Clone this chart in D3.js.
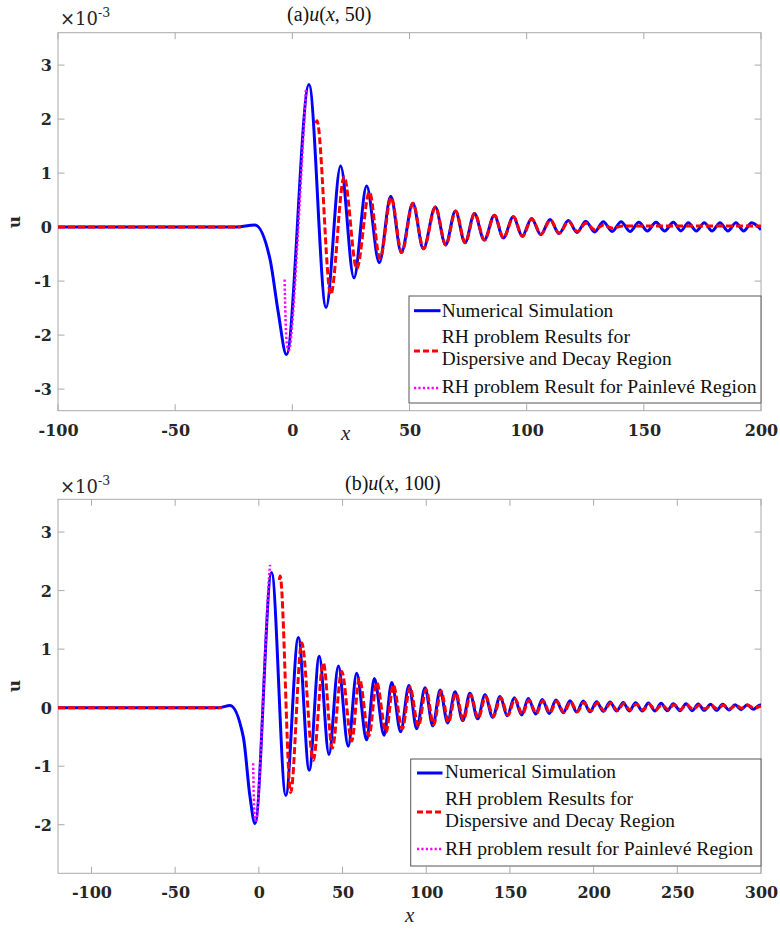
<!DOCTYPE html>
<html><head><meta charset="utf-8">
<script src="https://cdn.jsdelivr.net/npm/d3@7"></script>
<style>body{margin:0;background:#fff}svg{display:block}
.lx{font-family:"Liberation Serif",serif}
.tk{font-family:"DejaVu Serif",serif}
</style>
</head><body>
<script>
// ---------- DATA (u in units of 1e-3) ----------
const xTicksA = [-100,-50,0,50,100,150,200];
const yTicksA = [-3,-2,-1,0,1,2,3];
const xTicksB = [-100,-50,0,50,100,150,200,250,300];
const yTicksB = [-2,-1,0,1,2,3];

const simA = [[-100,0],[-24,0],[-16,0.04],[-9.5,-0.6],[-6,-1.58],[-2.5,-2.36],[7.1,2.64],[14.4,-1.49],[20.6,1.13],[26.3,-0.94],[31.7,0.76],[37.1,-0.66],[42.0,0.57],[46.5,-0.47],[51.4,0.44],[55.9,-0.40],[61.0,0.37],[65.4,-0.33],[69.6,0.30],[73.7,-0.29],[77.7,0.25],[81.9,-0.24],[86.2,0.22],[90.0,-0.20],[94.3,0.19],[98.1,-0.17],[102.1,0.16],[106.0,-0.14],[110.0,0.14],[113.8,-0.12],[117.8,0.12],[121.5,-0.10],[125.2,0.11],[129.0,-0.09],[132.7,0.10],[136.5,-0.08],[140.3,0.10],[144.1,-0.08],[147.9,0.09],[151.5,-0.07],[155.2,0.09],[158.9,-0.07],[162.6,0.09],[165.8,-0.07],[169.0,0.08],[172.4,-0.07],[175.8,0.08],[179.1,-0.07],[182.5,0.08],[185.9,-0.07],[189.3,0.08],[192.6,-0.07],[196.0,0.08],[200,-0.05]];
const rhDispLeftA = [[-100,0],[-22,0]];
const rhDispA = [[10.0,1.92],[10.5,1.97],[16.4,-1.25],[22.1,0.93],[27.5,-0.77],[32.9,0.65],[37.4,-0.58],[42.2,0.55],[46.7,-0.47],[51.5,0.44],[56.0,-0.40],[61.1,0.37],[65.5,-0.33],[69.7,0.30],[73.8,-0.29],[77.8,0.25],[82.0,-0.24],[86.3,0.22],[90.1,-0.20],[94.4,0.19],[98.2,-0.17],[102.2,0.15],[106.1,-0.13],[110.1,0.13],[113.9,-0.11],[117.9,0.10],[121.6,-0.08],[125.3,0.07],[129.1,-0.05],[132.8,0.04],[136.6,-0.02],[141,0.02],[200,0.02]];
const rhPainA = [[-3.3,-0.97],[-2.9,-1.7],[-2.2,-2.2],[-1.4,-2.28],[0.3,-1.6],[2.3,-0.2],[4.2,1.3],[5.8,2.55]];

const simB = [[-120,0],[-24,0],[-17.2,0.035],[-9.3,-0.5],[-5.3,-1.52],[-2.3,-1.98],[7.6,2.31],[16.1,-1.5],[23.6,1.20],[30.1,-1.07],[36.1,0.88],[41.9,-0.80],[47.5,0.71],[53.4,-0.66],[58.4,0.59],[64.4,-0.55],[69.0,0.50],[74.8,-0.47],[79.4,0.43],[84.7,-0.41],[89.7,0.38],[94.3,-0.36],[99.3,0.34],[103.9,-0.31],[108.3,0.30],[112.8,-0.26],[117.2,0.27],[121.8,-0.22],[126.1,0.245],[130.7,-0.19],[135.1,0.22],[139.7,-0.165],[144.1,0.19],[148.4,-0.14],[152.6,0.17],[157.0,-0.125],[161.0,0.155],[165.4,-0.11],[169.3,0.14],[173.5,-0.10],[177.5,0.13],[181.9,-0.085],[185.9,0.12],[189.9,-0.075],[193.8,0.115],[197.8,-0.07],[201.8,0.10],[205.8,-0.063],[209.8,0.097],[213.8,-0.057],[217.7,0.09],[221.3,-0.057],[225.1,0.086],[229.1,-0.057],[232.7,0.08],[236.7,-0.057],[240.3,0.074],[244.0,-0.051],[247.6,0.068],[251.6,-0.051],[255.2,0.068],[259.0,-0.051],[262.5,0.063],[266.1,-0.046],[269.9,0.057],[273.5,-0.046],[277.1,0.057],[280.9,-0.04],[284.5,0.051],[288.1,-0.034],[291.8,0.051],[295.4,-0.028],[299.4,0.046],[300,0.045]];
const rhDispLeftB = [[-120,0],[-22,0]];
const rhDispB = [[12.2,2.18],[12.7,2.25],[19.0,-1.45],[25.6,1.11],[32.5,-0.90],[38.5,0.77],[43.9,-0.69],[49.5,0.62],[55.5,-0.57],[60.0,0.50],[65.8,-0.48],[70.4,0.43],[76.0,-0.42],[80.3,0.39],[85.7,-0.36],[90.3,0.35],[95.3,-0.32],[99.9,0.31],[104.4,-0.29],[108.9,0.28],[113.3,-0.25],[117.7,0.25],[122.2,-0.21],[126.5,0.22],[131.1,-0.18],[135.5,0.19],[140.1,-0.15],[144.5,0.17],[148.8,-0.13],[153.0,0.15],[157.4,-0.11],[161.4,0.13],[165.8,-0.10],[169.7,0.12],[173.9,-0.09],[177.9,0.11],[182.3,-0.08],[186.3,0.10],[190.3,-0.07],[194.2,0.09],[198.2,-0.06],[202.2,0.08],[206.2,-0.05],[210.2,0.08],[214.2,-0.05],[218.1,0.07],[221.7,-0.04],[225.5,0.06],[229.5,-0.04],[233.1,0.06],[237.1,-0.04],[240.7,0.05],[244.4,-0.03],[248.0,0.05],[252.0,-0.03],[255.6,0.05],[259.4,-0.03],[262.9,0.04],[266.5,-0.02],[270.3,0.04],[273.9,-0.02],[277.5,0.04],[281.3,-0.02],[284.9,0.04],[288.5,-0.01],[292.2,0.04],[295.8,-0.01],[300,0.03]];
const rhPainB = [[-3.4,-0.95],[-3.0,-1.55],[-2.3,-1.88],[-1.5,-1.93],[0.0,-1.4],[2.0,-0.2],[4.0,1.1],[5.8,2.1],[6.7,2.44]];

const legendA = ["Numerical Simulation","RH problem Results for","Dispersive and Decay Region","RH problem Result for Painlevé Region"];
const legendB = ["Numerical Simulation","RH problem Results for","Dispersive and Decay Region","RH problem result for Painlevé Region"];

// ---------- DRAWING ----------
const W = 780, H = 929;
const svg = d3.select("body").append("svg").attr("width", W).attr("height", H);
const AX = "#aaaaaa", TXT = "#262626";
const BLUE = "#0000ff", RED = "#ff0000", MAG = "#ff00ff";

function panel(o) {
  const x = d3.scaleLinear().domain(o.xDom).range([o.left, o.right]);
  const y = d3.scaleLinear().domain(o.yDom).range([o.bottom, o.top]);
  const g = svg.append("g");
  const id = "clip" + o.name;
  svg.append("clipPath").attr("id", id).append("rect")
    .attr("x", o.left).attr("y", o.top).attr("width", o.right - o.left).attr("height", o.bottom - o.top);

  const tl = 6.5;
  g.append("rect").attr("x", o.left).attr("y", o.top).attr("width", o.right - o.left).attr("height", o.bottom - o.top)
    .attr("fill", "none").attr("stroke", AX).attr("stroke-width", 1);
  const xa = d3.axisBottom(x).tickValues(o.xTicks).tickSize(0).tickFormat(d => String(d));
  const ya = d3.axisLeft(y).tickValues(o.yTicks).tickSize(0).tickFormat(d => String(d));
  const gx = g.append("g").attr("transform", `translate(0,${o.bottom})`).call(xa);
  gx.select(".domain").remove();
  gx.attr("font-family", null).attr("font-size", null);
  gx.selectAll("text").attr("dy", null).attr("y", 25).attr("class", "tk").attr("font-weight", "bold")
    .attr("font-size", 16).attr("fill", TXT);
  const gy = g.append("g").attr("transform", `translate(${o.left},0)`).call(ya);
  gy.select(".domain").remove();
  gy.attr("font-family", null).attr("font-size", null);
  gy.selectAll("text").attr("x", -6).attr("dy", "0.36em").attr("class", "tk").attr("font-weight", "bold")
    .attr("font-size", 16).attr("fill", TXT);
  o.xTicks.forEach(t => {
    g.append("line").attr("x1", x(t)).attr("x2", x(t)).attr("y1", o.bottom).attr("y2", o.bottom - tl).attr("stroke", AX);
    g.append("line").attr("x1", x(t)).attr("x2", x(t)).attr("y1", o.top).attr("y2", o.top + tl).attr("stroke", AX);
  });
  o.yTicks.forEach(t => {
    g.append("line").attr("x1", o.left).attr("x2", o.left + tl).attr("y1", y(t)).attr("y2", y(t)).attr("stroke", AX);
    g.append("line").attr("x1", o.right).attr("x2", o.right - tl).attr("y1", y(t)).attr("y2", y(t)).attr("stroke", AX);
  });

  const line = d3.line().x(d => x(d[0])).y(d => y(d[1])).curve(d3.curveMonotoneX);
  const cg = g.append("g").attr("clip-path", `url(#${id})`);
  cg.append("path").datum(o.sim).attr("d", line).attr("fill", "none").attr("stroke", BLUE).attr("stroke-width", 3);
  o.disp.forEach(s => cg.append("path").datum(s).attr("d", line).attr("fill", "none").attr("stroke", RED)
    .attr("stroke-width", 3).attr("stroke-dasharray", "7,3"));
  cg.append("path").datum(o.pain).attr("d", line).attr("fill", "none").attr("stroke", MAG)
    .attr("stroke-width", 2.5).attr("stroke-dasharray", "2.2,2.2");

  const ex = g.append("text").attr("x", o.left + 2).attr("y", o.top - o.expDy).attr("class", "tk")
    .attr("font-size", 18).attr("fill", TXT);
  ex.append("tspan").text("×10");
  ex.append("tspan").attr("dy", -8).attr("font-size", 12.5).text("-3");

  g.append("text").attr("transform", `translate(${o.ylx},${o.yly}) rotate(-90)`).attr("text-anchor", "middle")
    .attr("class", "tk").attr("font-weight", "bold").attr("font-size", 17).attr("fill", TXT).text("u");
  g.append("text").attr("x", o.xlx).attr("y", o.xly).attr("class", "lx").attr("font-style", "italic")
    .attr("font-size", 21).attr("fill", TXT).text("x");

  const tt = g.append("text").attr("x", o.tx).attr("y", o.ty).attr("class", "lx").attr("font-size", 20).attr("fill", "#111");
  tt.append("tspan").text(o.tLabel);
  tt.append("tspan").attr("font-style", "italic").text("u");
  tt.append("tspan").text("(");
  tt.append("tspan").attr("font-style", "italic").text("x");
  tt.append("tspan").text(", " + o.tArg + ")");

  const L = o.leg;
  g.append("rect").attr("x", L.x0).attr("y", L.y0).attr("width", L.x1 - L.x0).attr("height", L.y1 - L.y0)
    .attr("fill", "#fff").attr("stroke", "#555").attr("stroke-width", 1);
  g.append("line").attr("x1", L.sx0).attr("x2", L.sx1).attr("y1", L.ly[0]).attr("y2", L.ly[0]).attr("stroke", BLUE).attr("stroke-width", 3);
  g.append("line").attr("x1", L.sx0).attr("x2", L.sx1).attr("y1", L.ly[1]).attr("y2", L.ly[1]).attr("stroke", RED).attr("stroke-width", 3).attr("stroke-dasharray", "6,3");
  g.append("line").attr("x1", L.sx0).attr("x2", L.sx1).attr("y1", L.ly[2]).attr("y2", L.ly[2]).attr("stroke", MAG).attr("stroke-width", 2.5).attr("stroke-dasharray", "2.2,2.2");
  o.legText.forEach((t, i) => {
    g.append("text").attr("x", L.tx).attr("y", L.by[i]).attr("class", "lx").attr("font-size", 19)
      .attr("fill", "#111").attr("textLength", L.tw[i]).attr("lengthAdjust", "spacingAndGlyphs").text(t);
  });
}

panel({
  name: "A", left: 58, right: 761, top: 32.7, bottom: 410.7,
  xDom: [-100, 200], yDom: [-3.4, 3.6], xTicks: xTicksA, yTicks: yTicksA,
  sim: simA, disp: [rhDispLeftA, rhDispA], pain: rhPainA,
  expDy: 8, ylx: 20, yly: 222, xlx: 341, xly: 440,
  tx: 287, ty: 21, tLabel: "(a)", tArg: "50",
  legText: legendA,
  leg: { x0: 409, x1: 761, y0: 296, y1: 403, sx0: 414, sx1: 440.5, ly: [310.7, 351, 388],
         tx: 441.7, by: [316.5, 343, 364.5, 392.5], tw: [171.6, 188.3, 230, 315] }
});
panel({
  name: "B", left: 58, right: 761, top: 499.3, bottom: 873.3,
  xDom: [-120, 300], yDom: [-2.83, 3.56], xTicks: xTicksB, yTicks: yTicksB,
  sim: simB, disp: [rhDispLeftB, rhDispB], pain: rhPainB,
  expDy: 6.5, ylx: 20, yly: 686, xlx: 405, xly: 922,
  tx: 345, ty: 490, tLabel: "(b)", tArg: "100",
  legText: legendB,
  leg: { x0: 410.7, x1: 761, y0: 759, y1: 866, sx0: 417, sx1: 442.5, ly: [773, 812, 849],
         tx: 445, by: [777.5, 804.5, 826.5, 855], tw: [171, 188, 230, 308] }
});
</script>
</body></html>
